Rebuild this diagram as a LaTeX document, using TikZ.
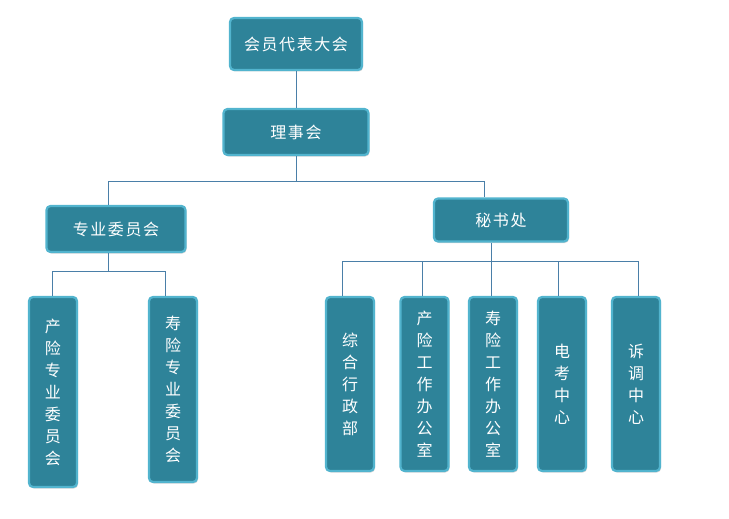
\documentclass[tikz,border=0pt]{standalone}
\usepackage{fontspec}
\newfontfamily\cjk{Noto Sans CJK SC}
\newfontfamily\cjkwide[LetterSpace=10]{Noto Sans CJK SC}
\usetikzlibrary{shadows}
\definecolor{boxfill}{HTML}{2E8399}
\definecolor{boxedge}{HTML}{52B4CE}
\definecolor{linkcol}{HTML}{4A7FA8}
\tikzset{
  orgbox/.style={draw=boxedge, line width=2.2pt, fill=boxfill, rounded corners=4pt,
    text=white, inner sep=0pt, font=\cjk\fontsize{16}{22}\selectfont,
    drop shadow={shadow xshift=1pt, shadow yshift=-1.5pt, fill=black!30, opacity=0.5}},
  hbox/.style={orgbox, font=\cjkwide\fontsize{16}{22}\selectfont},
  vbox/.style={orgbox, minimum width=48pt, align=center},
  link/.style={draw=linkcol, line width=0.6pt}
}
\begin{document}
\begin{tikzpicture}[x=1pt,y=-1pt]
  \useasboundingbox (0,0) rectangle (729,519);
  \node[hbox, minimum width=132pt, minimum height=52pt] (huiyuan) at (296,44) {会员代表大会};
  \node[hbox, minimum width=145pt, minimum height=46pt] (lishi) at (296,132) {理事会};
  \node[hbox, minimum width=139pt, minimum height=46pt] (zhuanwei) at (116,229) {专业委员会};
  \node[hbox, minimum width=134pt, minimum height=43pt] (mishu) at (501,220) {秘书处};
  \node[vbox, minimum height=190pt] (chanwei) at (53,392) {产\\险\\专\\业\\委\\员\\会};
  \node[vbox, minimum height=185pt] (shouwei) at (173,389.5) {寿\\险\\专\\业\\委\\员\\会};
  \node[vbox, minimum height=174pt] (zonghe) at (350,384) {综\\合\\行\\政\\部};
  \node[vbox, minimum height=174pt] (chanban) at (424.5,384) {产\\险\\工\\作\\办\\公\\室};
  \node[vbox, minimum height=174pt] (shouban) at (493,384) {寿\\险\\工\\作\\办\\公\\室};
  \node[vbox, minimum height=174pt] (diankao) at (562,384) {电\\考\\中\\心};
  \node[vbox, minimum height=174pt] (sutiao) at (636,384) {诉\\调\\中\\心};
  \coordinate (fork1) at (296,181);
  \coordinate (fork2) at (108,271);
  \coordinate (fork3) at (491,261);
  \draw[link] (huiyuan) -- (lishi);
  \draw[link] (lishi) -- (fork1);
  \draw[link] (fork1) -| ([xshift=-8pt]zhuanwei.north);
  \draw[link] (fork1) -| ([xshift=-17pt]mishu.north);
  \draw[link] ([xshift=-8pt]zhuanwei.south) -- (fork2);
  \draw[link] (fork2) -| ([xshift=-1pt]chanwei.north);
  \draw[link] (fork2) -| ([xshift=-8pt]shouwei.north);
  \draw[link] ([xshift=-10pt]mishu.south) -- (fork3);
  \draw[link] (fork3) -| ([xshift=-8pt]zonghe.north);
  \draw[link] (fork3) -| ([xshift=-2.5pt]chanban.north);
  \draw[link] (fork3) -- ([xshift=-2pt]shouban.north);
  \draw[link] (fork3) -| ([xshift=-4pt]diankao.north);
  \draw[link] (fork3) -| ([xshift=2pt]sutiao.north);
\end{tikzpicture}
\end{document}
